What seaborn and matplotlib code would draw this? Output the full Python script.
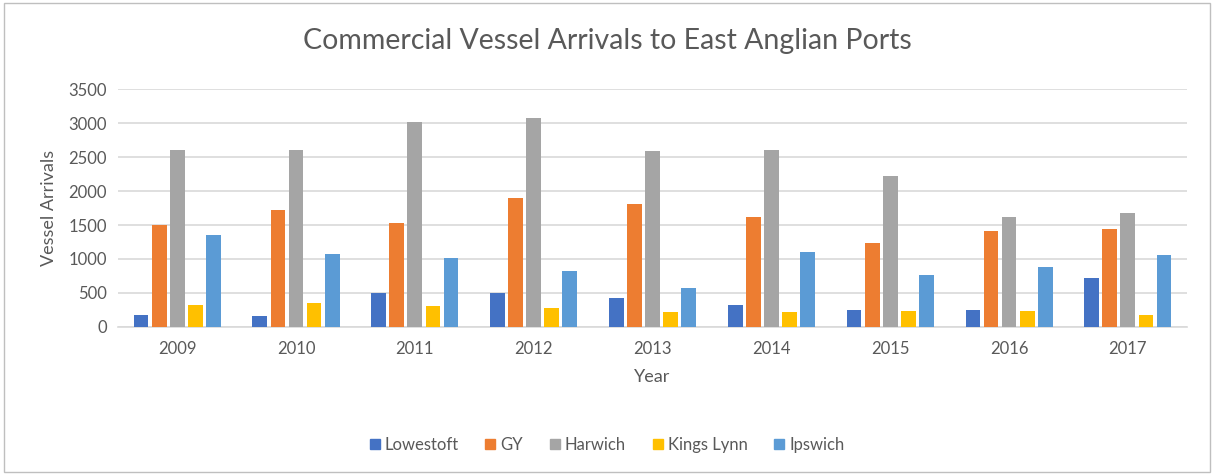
import numpy as np
import pandas as pd
import matplotlib
matplotlib.use("Agg")
import matplotlib.pyplot as plt
import seaborn as sns
from matplotlib.patches import Rectangle

years = ["2009", "2010", "2011", "2012", "2013", "2014", "2015", "2016", "2017"]
ports = ["Lowestoft", "GY", "Harwich", "Kings Lynn", "Ipswich"]

lowestoft = [180, 160, 500, 500, 430, 325, 250, 250, 720]
gy = [1500, 1720, 1530, 1890, 1810, 1620, 1240, 1415, 1445]
harwich = [2600, 2600, 3010, 3080, 2590, 2600, 2220, 1620, 1670]
kings_lynn = [320, 360, 310, 275, 215, 215, 235, 235, 180]
ipswich = [1350, 1070, 1020, 830, 575, 1100, 765, 880, 1055]

colors = ["#4472C4", "#ED7D31", "#A5A5A5", "#FFC000", "#5B9BD5"]

# long-form table for seaborn
df = pd.DataFrame({
    "Year": years * 5,
    "Port": np.repeat(ports, len(years)),
    "Arrivals": lowestoft + gy + harwich + kings_lynn + ipswich,
})

sns.set_theme(style="white")
plt.rcParams["font.family"] = ["Lato", "DejaVu Sans"]
text_col = "#595959"
grid_col = "#D9D9D9"

fig = plt.figure(figsize=(12.14, 4.75), dpi=100)
ax = fig.add_axes([0.097, 0.3116, 0.881, 0.501])

sns.barplot(data=df, x="Year", y="Arrivals", hue="Port", hue_order=ports,
            order=years, palette=colors, width=0.76, gap=0.18,
            saturation=1, errorbar=None, linewidth=0, ax=ax, zorder=3)

ax.set_ylim(0, 3500)
ax.set_yticks(range(0, 3501, 500))
ax.yaxis.grid(True, color=grid_col, linewidth=1.2, zorder=0)
ax.set_axisbelow(True)
for s in ["top", "right", "left"]:
    ax.spines[s].set_visible(False)
ax.spines["bottom"].set_color(grid_col)
ax.spines["bottom"].set_linewidth(1.2)
ax.tick_params(axis="both", length=0, labelsize=12, labelcolor=text_col)
ax.tick_params(axis="x", pad=10)
ax.tick_params(axis="y", pad=8)

ax.set_xlabel("Year", fontsize=13, color=text_col, labelpad=9)
ax.set_ylabel("Vessel Arrivals", fontsize=13, color=text_col, labelpad=8)

fig.suptitle("Commercial Vessel Arrivals to East Anglian Ports",
             fontsize=20.5, color=text_col, y=0.94)

ax.get_legend().remove()
handles = [plt.Rectangle((0, 0), 1, 1, color=c) for c in colors]
fig.legend(handles, ports, loc="center", bbox_to_anchor=(0.5, 0.063),
           ncol=5, frameon=False, fontsize=12, labelcolor=text_col,
           handlelength=0.6, handleheight=0.6, handletextpad=0.3,
           columnspacing=1.6)

# outer chart border
fig.patches.append(Rectangle((0.003, 0.006), 0.994, 0.988, transform=fig.transFigure,
                             fill=False, edgecolor="#BFBFBF", linewidth=1))

fig.savefig("out.png", dpi=100)
